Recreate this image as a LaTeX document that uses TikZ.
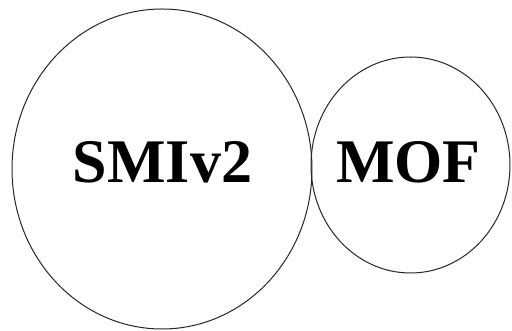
\documentclass[tikz,border=0pt]{standalone}
\usepackage{fontspec}
\setmainfont{Liberation Serif}
\usetikzlibrary{positioning}
\tikzset{
  ring/.style={draw=black!85, line width=1pt},
  biglabel/.style={font=\fontsize{62}{62}\selectfont\bfseries, inner sep=0pt}
}
\begin{document}
\begin{tikzpicture}[x=1pt,y=1pt]
        \useasboundingbox (0,0) rectangle (512,331);

        % the two circles
        \draw[ring] (162,162) ellipse (150 and 160);
        \draw[ring] (410.5,166) ellipse (99.5 and 108);

        \node[biglabel] (smi) at (162.5,168.5) {SMIv2};
        \node[biglabel] (mof) at (408.5,168.5) {MOF};
\end{tikzpicture}
\end{document}
